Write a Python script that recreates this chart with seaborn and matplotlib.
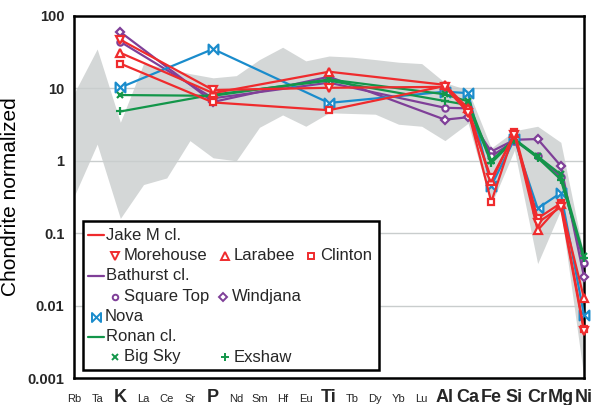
import numpy as np
import pandas as pd
import matplotlib
matplotlib.use("Agg")
import matplotlib.pyplot as plt
from matplotlib.path import Path
from matplotlib.patches import Rectangle
from matplotlib.lines import Line2D
from matplotlib import font_manager
import seaborn as sns

# ---- data -------------------------------------------------------------
elements = ["Rb", "Ta", "K", "La", "Ce", "Sr", "P", "Nd", "Sm", "Hf", "Eu",
            "Ti", "Tb", "Dy", "Yb", "Lu", "Al", "Ca", "Fe", "Si", "Cr", "Mg", "Ni"]
major_elements = ["K", "P", "Ti", "Al", "Ca", "Fe", "Si", "Cr", "Mg", "Ni"]

# envelope of the comparison field (one value per element)
range_upper = [8.5, 35, 3.4, 22, 19, 16, 14, 15, 25, 37, 24, 28, 27, 25, 23,
               22, 12, 9.5, 1.5, 2.6, 3.0, 1.8, 0.05]
range_lower = [0.32, 1.7, 0.16, 0.47, 0.58, 1.9, 1.1, 1.0, 2.9, 4.3, 3.0, 4.6,
               4.5, 4.4, 3.2, 3.0, 1.9, 3.3, 0.25, 1.4, 0.038, 0.21, 0.001]

# chondrite-normalized compositions at K, P, Ti, Al, Ca, Fe, Si, Cr, Mg, Ni
morehouse = [47, 9.5, 10.2, 10.5, 4.6, 0.57, 2.3, 0.14, 0.23, 0.0044]
larabee = [31, 8.6, 17, 11.2, 5.3, 0.52, 2.4, 0.11, 0.25, 0.0126]
clinton = [22, 6.4, 5.0, 10.8, 5.0, 0.27, 2.5, 0.16, 0.26, 0.0047]
square_top = [44, 7.3, 12.0, 5.4, 5.3, 1.15, 1.9, 1.15, 0.6, 0.039]
windjana = [60, 6.5, 14.5, 3.7, 4.0, 1.34, 1.95, 2.0, 0.85, 0.025]
nova = [10.3, 35, 6.3, 9.0, 8.6, 0.45, 2.0, 0.22, 0.36, 0.0074]
big_sky = [8.1, 7.9, 13.3, 8.3, 6.6, 1.0, 2.0, 1.15, 0.65, 0.048]
exshaw = [4.8, 8.2, 12.8, 6.7, 5.9, 0.93, 1.95, 1.1, 0.55, 0.045]

# ---- style -----------------------------------------------------------
RED = "#ef2b2d"
PURPLE = "#7f3f98"
BLUE = "#1a8ccc"
GREEN = "#13964a"
BAND = "#d4d7d7"

sns.set_theme(style="white")
available = {f.name for f in font_manager.fontManager.ttflist}
NARROW = "Liberation Sans Narrow" if "Liberation Sans Narrow" in available else "Liberation Sans"
plt.rcParams["font.family"] = ["Liberation Sans", "DejaVu Sans"]

bowtie = Path([(-1, -1), (-1, 1), (1, -1), (1, 1), (-1, -1)],
              [Path.MOVETO, Path.LINETO, Path.LINETO, Path.LINETO, Path.CLOSEPOLY])

samples = [
    # name, values, colour, marker, size
    ("Windjana", windjana, PURPLE, "D", 4.5),
    ("Square Top", square_top, PURPLE, "o", 4.5),
    ("Nova", nova, BLUE, bowtie, 7),
    ("Exshaw", exshaw, GREEN, "+", 6),
    ("Big Sky", big_sky, GREEN, "x", 5),
    ("Clinton", clinton, RED, "s", 4.5),
    ("Larabee", larabee, RED, "^", 6),
    ("Morehouse", morehouse, RED, "v", 6),
]

pos = {el: i for i, el in enumerate(elements)}
rows = []
for name, vals, *_ in samples:
    for el, v in zip(major_elements, vals):
        rows.append({"sample": name, "element": el, "pos": pos[el], "value": v})
df = pd.DataFrame(rows)

# ---- figure -------------------------------------------------------------
W, H = 595, 405
fig = plt.figure(figsize=(W / 100, H / 100), dpi=100)
L, R, T, B = 74, 584, 16, 378
ax = fig.add_axes([L / W, 1 - B / H, (R - L) / W, (B - T) / H])

x_all = np.arange(len(elements))
ax.fill_between(x_all, range_lower, range_upper, color=BAND, lw=0, zorder=0.2)

for name, vals, color, marker, ms in samples:
    sub = df[df["sample"] == name]
    sns.lineplot(data=sub, x="pos", y="value", ax=ax, color=color, lw=1.6,
                 marker=marker, markersize=ms, markeredgewidth=1.6,
                 markeredgecolor=color, markerfacecolor="white",
                 sort=False, errorbar=None, legend=False, zorder=3,
                 clip_on=False)

ax.set_yscale("log")
ax.set_ylim(0.001, 100)
ax.set_xlim(0, len(elements) - 1)
ax.set_yticks([0.001, 0.01, 0.1, 1, 10, 100])
ax.set_yticklabels(["0.001", "0.01", "0.1", "1", "10", "100"])
ax.yaxis.set_minor_locator(matplotlib.ticker.NullLocator())
ax.set_axisbelow(True)
ax.grid(axis="y", which="major", color="#c9cdcd", lw=1.0)
ax.grid(axis="x", visible=False)

ax.set_xticks(x_all)
ax.set_xticklabels(elements)
ax.tick_params(axis="x", direction="out", length=5, width=1, color="black", pad=12)
ax.tick_params(axis="y", direction="out", length=3, width=1, color="#c9cdcd", pad=4)
for lab in ax.get_xticklabels():
    lab.set_verticalalignment("baseline")
    if lab.get_text() in major_elements:
        lab.set_fontsize(13)
        lab.set_fontweight("bold")
        lab.set_family(NARROW)
    else:
        lab.set_fontsize(8)
        lab.set_family(NARROW)
for lab in ax.get_yticklabels():
    lab.set_fontsize(10.5)
    lab.set_fontweight("bold")
    lab.set_family(NARROW)

for s in ax.spines.values():
    s.set_color("black")
    s.set_linewidth(1.8)

ax.set_xlabel("")
ax.set_ylabel("Chondrite normalized", fontsize=15, color="black")
ax.yaxis.set_label_coords((20 - L) / (R - L), 0.5)

# ---- legend box -------------------------------------------------------
def ax_xy(px, py):
    return (px - L) / (R - L), (B - py) / (B - T)

x0, y0 = ax_xy(83, 370)
x1, y1 = ax_xy(379, 221)
ax.add_patch(Rectangle((x0, y0), x1 - x0, y1 - y0, transform=ax.transAxes,
                       facecolor="white", edgecolor="black", lw=1.8, zorder=5))

FS = 12
def leg_line(py, color, label):
    xa, ya = ax_xy(88, py)
    xb, _ = ax_xy(104, py)
    ax.add_line(Line2D([xa, xb], [ya, ya], transform=ax.transAxes, color=color,
                       lw=1.6, zorder=6))
    xt, _ = ax_xy(106, py)
    ax.text(xt, ya, label, transform=ax.transAxes, fontsize=FS, va="center",
            ha="left", zorder=6)

def leg_marker(px, py, color, marker, ms, label):
    xm, ym = ax_xy(px, py)
    ax.add_line(Line2D([xm], [ym], transform=ax.transAxes, ls="none",
                       marker=marker, markersize=ms, markeredgewidth=1.4,
                       markeredgecolor=color, markerfacecolor="white", zorder=6))
    xt, _ = ax_xy(px + 9, py)
    ax.text(xt, ym, label, transform=ax.transAxes, fontsize=FS, va="center",
            ha="left", zorder=6)

rows_y = [235, 255.5, 276, 296.5, 316.5, 336.5, 357]
leg_line(rows_y[0], RED, "Jake M cl.")
leg_marker(115, rows_y[1], RED, "v", 5.5, "Morehouse")
leg_marker(225, rows_y[1], RED, "^", 5.5, "Larabee")
leg_marker(311, rows_y[1], RED, "s", 4, "Clinton")
leg_line(rows_y[2], PURPLE, "Bathurst cl.")
leg_marker(115, rows_y[3], PURPLE, "o", 4, "Square Top")
leg_marker(223, rows_y[3], PURPLE, "D", 4, "Windjana")
leg_marker(96, rows_y[4], BLUE, bowtie, 6.5, "Nova")
leg_line(rows_y[5], GREEN, "Ronan cl.")
leg_marker(115, rows_y[6], GREEN, "x", 4.5, "Big Sky")
leg_marker(225, rows_y[6], GREEN, "+", 5.5, "Exshaw")

fig.savefig("out.png", dpi=100)
